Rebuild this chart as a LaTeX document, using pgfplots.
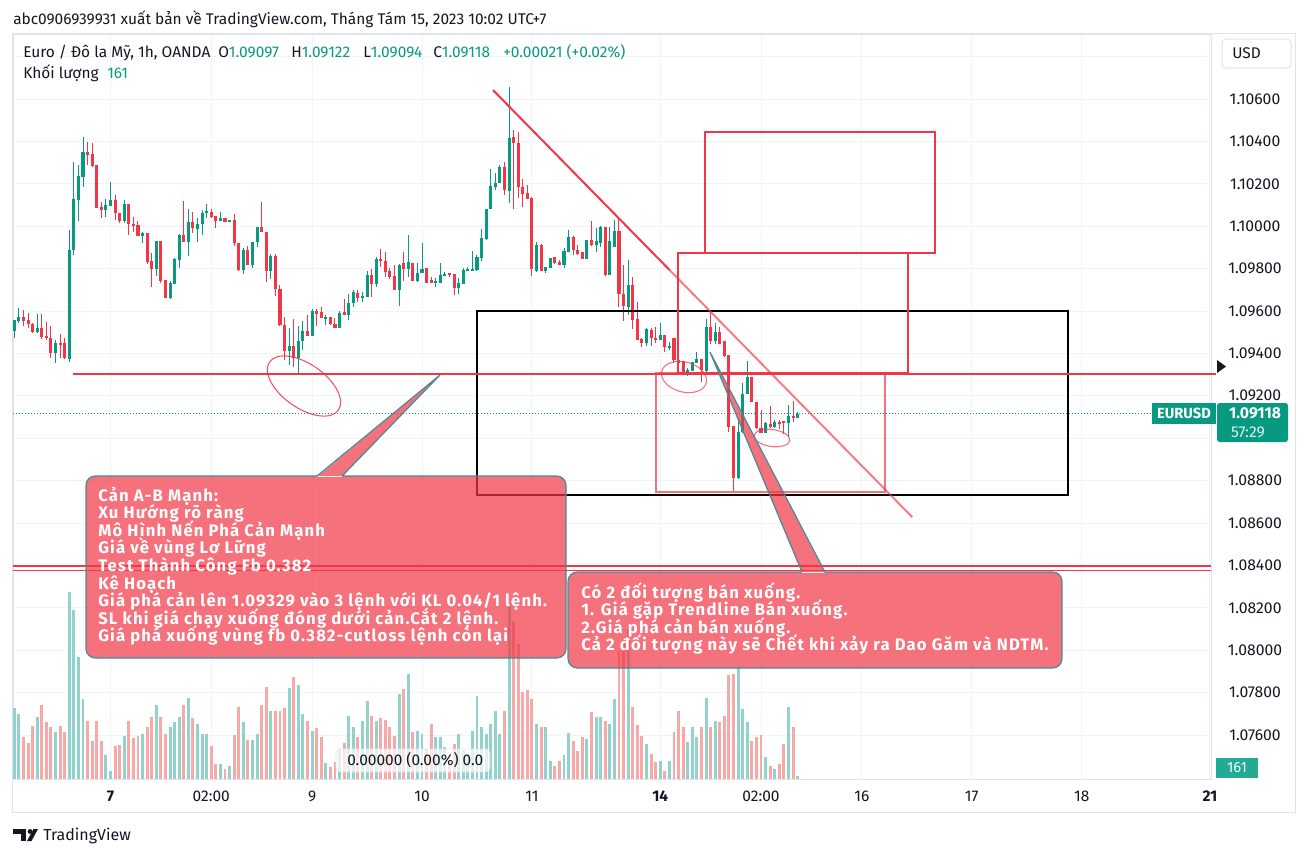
\documentclass[border=0pt]{standalone}
\usepackage{fontspec}
\setmainfont{Fira Sans}
\newfontfamily\calloutfont{Fira Sans}[LetterSpace=7]
\usepackage{pgfplots}
\pgfplotsset{compat=1.18}
\usepackage{pgfplotstable}

\definecolor{tvgreen}{HTML}{089981}
\definecolor{tvred}{HTML}{F23645}
\definecolor{volgreen}{HTML}{92D2CC}
\definecolor{volred}{HTML}{F7A9A7}
\definecolor{gridc}{HTML}{F0F3FA}
\definecolor{textc}{HTML}{131722}
\definecolor{bordc}{HTML}{E0E3EB}
\definecolor{callb}{HTML}{4A8A96}
\definecolor{voltag}{HTML}{22AB94}

% hourly candles, x = bar index (0 = Mon 7 Aug 04:00), o h l c, v = volume
\pgfplotstableread{
x o h l c v
-21 1.09508 1.09558 1.09472 1.09558 3550
-20 1.09555 1.09616 1.09545 1.09571 3250
-16 1.09503 1.09585 1.09495 1.09523 3100
-12 1.09404 1.09464 1.09357 1.09448 2350
-9 1.09376 1.09982 1.09357 1.09887 9350
-8 1.09887 1.10305 1.09865 1.10129 8450
-7 1.10124 1.10289 1.10026 1.10236 6100
-6 1.10234 1.10419 1.10187 1.10350 4000
-1 1.10078 1.10127 1.10045 1.10100 1200
0 1.10097 1.10209 1.10097 1.10124 400
3 1.10026 1.10124 1.10014 1.10105 2150
7 1.09957 1.09975 1.09923 1.09970 2250
10 1.09800 1.09931 1.09767 1.09931 3700
13 1.09663 1.09742 1.09657 1.09731 2600
14 1.09728 1.09852 1.09728 1.09846 2850
15 1.09841 1.09962 1.09802 1.09959 3100
17 1.09927 1.10080 1.09861 1.10019 4050
19 1.09989 1.10038 1.09927 1.10011 2750
20 1.10011 1.10077 1.09959 1.10063 2250
21 1.10061 1.10104 1.10042 1.10072 2250
24 1.10026 1.10066 1.10026 1.10041 750
26 1.10019 1.10030 1.10019 1.10030 650
29 1.09794 1.09896 1.09773 1.09888 2850
31 1.09817 1.09929 1.09806 1.09924 1950
32 1.09924 1.09998 1.09904 1.09998 2250
35 1.09791 1.09872 1.09750 1.09860 3400
39 1.09413 1.09519 1.09346 1.09435 4550
41 1.09377 1.09530 1.09299 1.09459 4700
42 1.09459 1.09555 1.09416 1.09506 3250
44 1.09484 1.09613 1.09484 1.09600 2400
47 1.09564 1.09580 1.09534 1.09574 800
50 1.09519 1.09600 1.09519 1.09594 1500
52 1.09580 1.09680 1.09558 1.09637 3150
53 1.09639 1.09702 1.09621 1.09691 2600
55 1.09663 1.09691 1.09644 1.09671 2900
56 1.09668 1.09791 1.09668 1.09770 3900
58 1.09727 1.09856 1.09712 1.09845 2900
63 1.09700 1.09825 1.09625 1.09817 4250
65 1.09798 1.09959 1.09762 1.09830 5250
67 1.09742 1.09828 1.09739 1.09781 2400
68 1.09781 1.09919 1.09781 1.09798 2250
71 1.09739 1.09754 1.09715 1.09740 2100
72 1.09734 1.09825 1.09734 1.09770 2100
73 1.09768 1.09783 1.09767 1.09775 1600
76 1.09710 1.09759 1.09683 1.09733 2250
77 1.09731 1.09802 1.09728 1.09794 1450
78 1.09791 1.09809 1.09791 1.09797 1200
79 1.09795 1.09883 1.09794 1.09797 2400
80 1.09794 1.09864 1.09791 1.09856 4150
81 1.09852 1.09990 1.09836 1.09943 2600
82 1.09940 1.10084 1.09938 1.10084 2250
83 1.10083 1.10270 1.10083 1.10190 2750
84 1.10187 1.10254 1.10171 1.10205 3400
85 1.10205 1.10289 1.10202 1.10281 2250
87 1.10168 1.10658 1.10111 1.10419 8750
93 1.09791 1.09927 1.09786 1.09911 2750
95 1.09791 1.09809 1.09782 1.09806 2600
96 1.09806 1.09853 1.09806 1.09853 900
99 1.09817 1.09896 1.09806 1.09885 1200
100 1.09880 1.09982 1.09877 1.09951 2300
104 1.09848 1.09938 1.09845 1.09935 2000
106 1.09911 1.09990 1.09880 1.09931 3100
107 1.09923 1.10003 1.09904 1.09998 3100
109 1.09770 1.09998 1.09770 1.09932 2750
110 1.09904 1.10032 1.09904 1.09977 4000
113 1.09620 1.09841 1.09581 1.09723 7500
117 1.09448 1.09519 1.09437 1.09514 1750
120 1.09463 1.09542 1.09463 1.09487 900
122 1.09425 1.09455 1.09419 1.09435 900
126 1.09306 1.09334 1.09295 1.09322 1850
127 1.09319 1.09358 1.09319 1.09358 2600
128 1.09356 1.09408 1.09356 1.09374 2100
130 1.09319 1.09565 1.09298 1.09526 4050
132 1.09460 1.09542 1.09447 1.09502 2900
137 1.08811 1.09094 1.08806 1.09031 5600
138 1.09031 1.09259 1.09026 1.09209 3500
139 1.09207 1.09364 1.09207 1.09287 2850
143 1.09026 1.09078 1.09026 1.09073 1100
145 1.09054 1.09086 1.09051 1.09076 500
148 1.09073 1.09157 1.09007 1.09105 3600
150 1.09097 1.09122 1.09094 1.09118 161
}\greentab

\pgfplotstableread{
x o h l c v
-19 1.09571 1.09605 1.09530 1.09555 2100
-18 1.09558 1.09589 1.09519 1.09542 1800
-17 1.09542 1.09542 1.09495 1.09503 2650
-15 1.09523 1.09585 1.09467 1.09479 3700
-14 1.09483 1.09547 1.09464 1.09475 2850
-13 1.09476 1.09530 1.09377 1.09404 2600
-11 1.09448 1.09492 1.09377 1.09444 2650
-10 1.09448 1.09475 1.09376 1.09376 2350
-5 1.10350 1.10397 1.10289 1.10338 2900
-4 1.10341 1.10392 1.10281 1.10284 1900
-3 1.10289 1.10289 1.10088 1.10088 2900
-2 1.10091 1.10115 1.10041 1.10078 1900
1 1.10124 1.10148 1.10030 1.10061 1650
2 1.10061 1.10061 1.10017 1.10026 1700
4 1.10105 1.10105 1.09959 1.10011 2900
5 1.10011 1.10045 1.09975 1.10003 2050
6 1.10006 1.10026 1.09956 1.09956 2150
8 1.09968 1.09968 1.09820 1.09830 2600
9 1.09836 1.09874 1.09715 1.09800 3100
11 1.09931 1.09931 1.09734 1.09742 3100
12 1.09747 1.09747 1.09663 1.09663 2250
16 1.09959 1.10119 1.09927 1.09927 3700
18 1.10019 1.10066 1.09967 1.09990 3050
22 1.10069 1.10080 1.10038 1.10045 1650
23 1.10049 1.10049 1.09993 1.10026 750
25 1.10041 1.10041 1.10019 1.10019 500
27 1.10030 1.10056 1.09907 1.09920 2200
28 1.09920 1.09920 1.09791 1.09794 3600
30 1.09888 1.09909 1.09817 1.09817 1950
33 1.09998 1.10115 1.09975 1.09975 3700
34 1.09975 1.09975 1.09739 1.09791 4600
36 1.09860 1.09872 1.09671 1.09706 3400
37 1.09707 1.09723 1.09530 1.09534 3400
38 1.09534 1.09574 1.09369 1.09413 3550
40 1.09435 1.09561 1.09335 1.09377 5100
43 1.09506 1.09582 1.09484 1.09484 2900
45 1.09600 1.09611 1.09527 1.09589 2550
46 1.09594 1.09621 1.09569 1.09569 2100
48 1.09571 1.09574 1.09534 1.09539 600
49 1.09542 1.09569 1.09519 1.09519 850
51 1.09594 1.09657 1.09580 1.09580 1800
54 1.09683 1.09700 1.09644 1.09663 2100
57 1.09770 1.09797 1.09668 1.09727 3150
59 1.09845 1.09891 1.09809 1.09836 3050
60 1.09836 1.09880 1.09762 1.09786 2950
61 1.09791 1.09802 1.09750 1.09762 2600
62 1.09765 1.09817 1.09700 1.09700 2150
64 1.09828 1.09880 1.09742 1.09798 4500
66 1.09828 1.09828 1.09742 1.09742 2350
69 1.09802 1.09802 1.09734 1.09734 1500
70 1.09747 1.09762 1.09731 1.09734 2750
74 1.09778 1.09778 1.09762 1.09773 900
75 1.09775 1.09778 1.09679 1.09710 1750
86 1.10281 1.10304 1.10150 1.10171 3400
88 1.10419 1.10457 1.10084 1.10391 7900
89 1.10396 1.10446 1.10132 1.10187 6750
90 1.10187 1.10221 1.10092 1.10155 4350
91 1.10155 1.10193 1.10128 1.10128 4450
92 1.10135 1.10140 1.09767 1.09798 4000
94 1.09911 1.09916 1.09791 1.09791 2600
97 1.09853 1.09853 1.09820 1.09828 650
98 1.09833 1.09841 1.09817 1.09817 900
101 1.09951 1.09951 1.09864 1.09891 1900
102 1.09891 1.09911 1.09864 1.09872 1400
103 1.09877 1.09877 1.09848 1.09848 2100
105 1.09935 1.10025 1.09908 1.09911 3350
108 1.09998 1.09998 1.09765 1.09770 2900
111 1.09977 1.10045 1.09621 1.09680 6400
112 1.09683 1.09817 1.09555 1.09625 6850
114 1.09723 1.09762 1.09514 1.09558 3600
115 1.09561 1.09644 1.09463 1.09463 2700
116 1.09468 1.09472 1.09432 1.09448 2150
118 1.09511 1.09519 1.09437 1.09472 1250
119 1.09475 1.09526 1.09448 1.09467 850
121 1.09487 1.09487 1.09408 1.09432 400
123 1.09474 1.09474 1.09353 1.09369 2350
124 1.09372 1.09377 1.09345 1.09356 3400
125 1.09364 1.09364 1.09306 1.09306 2600
129 1.09374 1.09374 1.09267 1.09322 2600
131 1.09526 1.09605 1.09447 1.09458 2600
133 1.09502 1.09526 1.09447 1.09447 2850
134 1.09458 1.09458 1.09385 1.09389 3150
135 1.09392 1.09392 1.09031 1.09054 5200
136 1.09059 1.09059 1.08753 1.08811 5250
140 1.09287 1.09290 1.09172 1.09172 1900
141 1.09172 1.09172 1.09043 1.09047 2100
142 1.09050 1.09133 1.09026 1.09026 2200
144 1.09070 1.09152 1.09051 1.09054 650
146 1.09078 1.09086 1.09047 1.09073 750
147 1.09081 1.09081 1.09020 1.09073 1750
149 1.09105 1.09175 1.09078 1.09098 2600
}\redtab

\pgfplotsset{
  candlewick/.style={draw=none, forget plot, error bars/.cd, y dir=both, y explicit,
    error mark=none, error bar style={draw=#1, line width=0.75pt}},
  candlebody/.style={draw=none, forget plot, error bars/.cd, y dir=both, y explicit,
    error mark=none, error bar style={draw=#1, line width=2.3pt}},
  volbar/.style={draw=none, forget plot, error bars/.cd, y dir=both, y explicit,
    error mark=none, error bar style={draw=#1, line width=2.2pt}},
}

\newcommand{\uifont}{\fontsize{11.6}{13}\selectfont}
\newcommand{\cofont}{\calloutfont\fontsize{12.5}{14}\selectfont\bfseries}

\begin{document}
\begin{tikzpicture}
\useasboundingbox (0,0) rectangle (980.25pt,-642.75pt);
\fill[white] (0,0) rectangle (980.25pt,-642.75pt);

\begin{axis}[
  at={(9.75pt,-584.25pt)}, anchor=south west,
  scale only axis, width=898.5pt, height=558.75pt,
  xmin=-21.283, xmax=240.23, ymin=1.073925, ymax=1.109066,
  clip=false,
  axis line style={draw=bordc, line width=0.75pt},
  tick style={draw=none},
  grid=major, grid style={draw=gridc, line width=0.75pt},
  xtick={0,22,44,68,92,120,142,164,188,212,240},
  xticklabels={\textbf{7},02:00,9,10,11,\textbf{14},02:00,16,17,18,\textbf{21}},
  ytick={1.076,1.078,1.080,1.082,1.084,1.086,1.088,1.090,1.092,1.094,1.096,1.098,1.100,1.102,1.104,1.106,1.108},
  yticklabels={1.07600,1.07800,1.08000,1.08200,1.08400,1.08600,1.08800,{},1.09200,1.09400,1.09600,1.09800,1.10000,1.10200,1.10400,1.10600,{}},
  scaled y ticks=false,
  yticklabel pos=right,
  xticklabel style={font=\fontsize{11.6}{13}\selectfont, text=textc, anchor=center, yshift=-12.75pt},
  yticklabel style={font=\fontsize{11.8}{13}\selectfont, text=textc, anchor=center, xshift=33pt},
]
% volume
\addplot[volbar=volgreen] table[x=x, y expr={1.073925+\thisrow{v}*4.717e-7}, y error expr={\thisrow{v}*4.717e-7}] {\greentab};
\addplot[volbar=volred] table[x=x, y expr={1.073925+\thisrow{v}*4.717e-7}, y error expr={\thisrow{v}*4.717e-7}] {\redtab};
% candles
\addplot[candlewick=tvgreen] table[x=x, y expr={(\thisrow{h}+\thisrow{l})/2}, y error expr={(\thisrow{h}-\thisrow{l})/2}] {\greentab};
\addplot[candlewick=tvred] table[x=x, y expr={(\thisrow{h}+\thisrow{l})/2}, y error expr={(\thisrow{h}-\thisrow{l})/2}] {\redtab};
\addplot[candlebody=tvgreen] table[x=x, y expr={(\thisrow{o}+\thisrow{c})/2}, y error expr={max(abs(\thisrow{c}-\thisrow{o})/2,0.0000236)}] {\greentab};
\addplot[candlebody=tvred] table[x=x, y expr={(\thisrow{o}+\thisrow{c})/2}, y error expr={max(abs(\thisrow{c}-\thisrow{o})/2,0.0000236)}] {\redtab};

% drawings
\draw[tvgreen, line width=0.75pt, dash pattern=on 0.75pt off 1.5pt] (axis cs:-21.283,1.09118) -- (axis cs:240.23,1.09118);
\draw[tvred, line width=1.1pt] (axis cs:-21.283,1.08397) -- (axis cs:240.23,1.08397);
\draw[tvred, line width=1.1pt] (axis cs:-21.283,1.08376) -- (axis cs:240.23,1.08376);
\draw[black, line width=1.5pt] (axis cs:79.9,1.09600) rectangle (axis cs:209.0,1.08732);
\draw[tvred, line width=1.1pt] (axis cs:129.8,1.10444) rectangle (axis cs:180.0,1.09874);
\draw[tvred, line width=1.1pt] (axis cs:123.9,1.09874) rectangle (axis cs:174.1,1.09308);
\draw[tvred, opacity=0.7, line width=2pt] (axis cs:119.1,1.09308) rectangle (axis cs:169.1,1.08746);
\draw[tvred, line width=1.5pt] (axis cs:-8.19,1.09303) -- (axis cs:241.4,1.09303);
\draw[tvred, line width=1.5pt] (axis cs:83.5,1.10642) -- (axis cs:122.1,1.09792);
\draw[tvred, opacity=0.65, line width=1.5pt] (axis cs:122.1,1.09792) -- (axis cs:175.0,1.08628);
\end{axis}

\begin{scope}[x=0.75pt, y=-0.75pt, every node/.style={inner sep=0pt}]
% widget border
\draw[bordc, line width=0.75pt] (12.5,33) rectangle (1295,812);
% header
\node[anchor=base west, text=textc, font=\uifont] at (13,24.5) {abc0906939931 xuất bản về TradingView.com, Tháng Tám 15, 2023 10:02 UTC+7};
\node[anchor=base west, text=textc, font=\uifont] at (23,57.5) {Euro / Đô la Mỹ, 1h, OANDA};
\node[anchor=base west, text=textc, font=\uifont] at (218,57.5) {O\textcolor{tvgreen}{1.09097}};
\node[anchor=base west, text=textc, font=\uifont] at (291,57.5) {H\textcolor{tvgreen}{1.09122}};
\node[anchor=base west, text=textc, font=\uifont] at (363,57.5) {L\textcolor{tvgreen}{1.09094}};
\node[anchor=base west, text=textc, font=\uifont] at (433,57.5) {C\textcolor{tvgreen}{1.09118}};
\node[anchor=base west, text=tvgreen, font=\uifont] at (503,57.5) {+0.00021 (+0.02\%)};
\node[anchor=base west, text=textc, font=\uifont] at (23,78.5) {Khối lượng};
\node[anchor=base west, text=tvgreen, font=\uifont] at (107,78.5) {161};
% USD button
\draw[bordc, line width=0.75pt, fill=white, rounded corners=3pt] (1222,39) rectangle (1291,68);
\node[anchor=base west, text=textc, font=\uifont] at (1232,58.5) {USD};
% ellipses
\draw[tvred, opacity=0.85, line width=0.8pt, rotate around={-35:(304,386)}] (304,386) ellipse [x radius=42, y radius=22];
\draw[tvred, opacity=0.7, line width=0.8pt, rotate around={-15:(684,377)}] (684,377) ellipse [x radius=23, y radius=15];
\draw[tvred, opacity=0.7, line width=0.8pt, rotate around={-8:(772,438)}] (772,438) ellipse [x radius=18, y radius=8.5];
% callout 1
\fill[tvred, fill opacity=0.7, rounded corners=7] (86,476) rectangle (566,658) [sharp corners] (317,477) -- (440,375) -- (342,477) -- cycle;
\draw[callb, line width=0.9pt, rounded corners=7] (317,476) -- (86,476) -- (86,658) -- (566,658) -- (566,476) -- (342,476);
\draw[callb, line width=0.9pt] (317,476) -- (440,375) -- (342,476);
\node[anchor=base west, text=white, font=\cofont] at (98,501) {Cản A-B Mạnh:};
\node[anchor=base west, text=white, font=\cofont] at (98,518.6) {Xu Hướng rõ ràng};
\node[anchor=base west, text=white, font=\cofont] at (98,536.2) {Mô Hình Nến Phá Cản Mạnh};
\node[anchor=base west, text=white, font=\cofont] at (98,553.8) {Giá về vùng Lơ Lững};
\node[anchor=base west, text=white, font=\cofont] at (98,571.4) {Test Thành Công Fb 0.382};
\node[anchor=base west, text=white, font=\cofont] at (98,589) {Kê Hoạch};
\node[anchor=base west, text=white, font=\cofont] at (98,606.6) {Giá phá cản lên 1.09329 vào 3 lệnh với KL 0.04/1 lệnh.};
\node[anchor=base west, text=white, font=\cofont] at (98,624.2) {SL khi giá chạy xuống đóng dưới cản.Cắt 2 lệnh.};
\node[anchor=base west, text=white, font=\cofont] at (98,641.8) {Giá phá xuống vùng fb 0.382-cutloss lệnh còn lại};
% callout 2
\fill[tvred, fill opacity=0.7, rounded corners=7] (568,572) rectangle (1062,668) [sharp corners] (802,573) -- (710,352) -- (825,573) -- cycle;
\draw[callb, line width=0.9pt, rounded corners=7] (802,572) -- (568,572) -- (568,668) -- (1062,668) -- (1062,572) -- (825,572);
\draw[callb, line width=0.9pt] (802,572) -- (710,352) -- (825,572);
\node[anchor=base west, text=white, font=\cofont] at (581,598) {Có 2 đối tượng bán xuống.};
\node[anchor=base west, text=white, font=\cofont] at (581,615.6) {1. Giá gặp Trendline Bán xuống.};
\node[anchor=base west, text=white, font=\cofont] at (581,633.2) {2.Giá phá cản bán xuống.};
\node[anchor=base west, text=white, font=\cofont] at (581,650.8) {Cả 2 đối tượng này sẽ Chết khi xảy ra Dao Găm và NDTM.};
% measure label
\draw[bordc, fill=white, fill opacity=0.7, rounded corners=3pt] (336,749) rectangle (490,772);
\node[anchor=base west, text=textc, font=\uifont] at (347,765) {0.00000 (0.00\%) 0.0};
% price scale tags
\fill[textc] (1217,360) -- (1226,366.5) -- (1217,373) -- cycle;
\fill[tvgreen] (1152,403) rectangle (1216,424);
\node[text=white, font=\fontsize{11}{12}\selectfont\bfseries] at (1184,413.5) {EURUSD};
\fill[tvgreen, rounded corners=2pt] (1217,403) rectangle (1288,442);
\node[text=white, font=\fontsize{11.8}{12}\selectfont\bfseries] at (1255,413) {1.09118};
\node[text=white, opacity=0.85, font=\fontsize{11.8}{12}\selectfont] at (1248,432.5) {57:29};
\fill[voltag] (1216,758) rectangle (1258,778);
\node[text=white, font=\fontsize{11}{12}\selectfont] at (1237,768) {161};
% footer logo
\fill[textc] (13,829) rectangle (26,834);
\fill[textc] (20.5,829) rectangle (26,841);
\fill[textc] (30,831.5) circle (2.4);
\fill[textc] (33.5,829) -- (38,829) -- (31.5,841) -- (27,841) -- cycle;
\node[anchor=base west, text=textc, font=\fontsize{12}{14}\selectfont] at (43,840.5) {TradingView};
\end{scope}
\end{tikzpicture}
\end{document}
